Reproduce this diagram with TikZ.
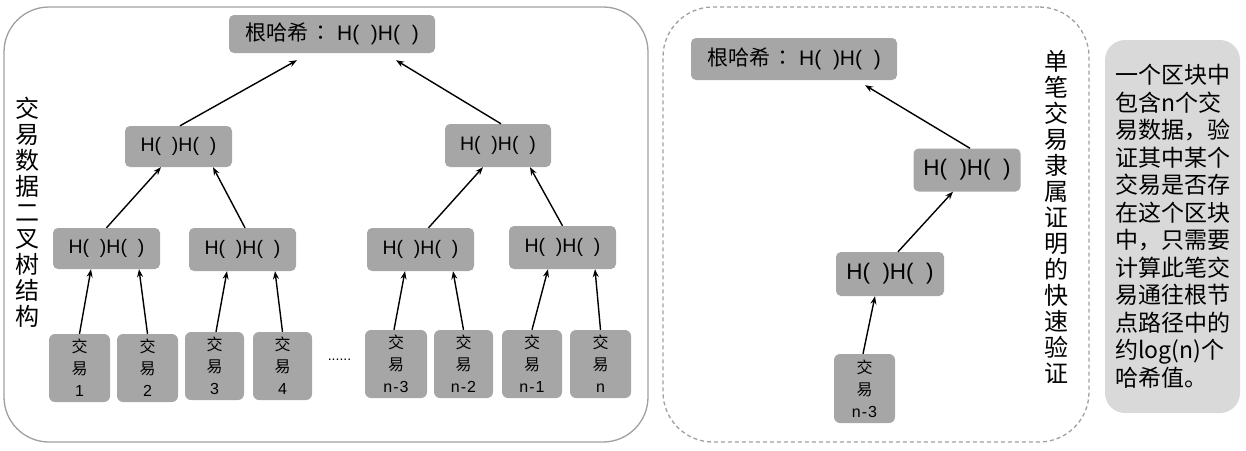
\documentclass[tikz,border=0pt]{standalone}
\usepackage{fontspec}
\setmainfont{Liberation Sans}
\newfontfamily\cjk{Noto Sans CJK SC}
\newfontfamily\cjktc{Noto Sans CJK TC}
\usetikzlibrary{arrows.meta}
\definecolor{boxgray}{HTML}{A6A6A6}
\definecolor{lightbox}{HTML}{D9D9D9}
\definecolor{framegray}{HTML}{A0A0A0}
\newcommand{\roottext}{{\cjk 根哈希}\kern2pt{\cjktc ：}\kern6pt H(~~)H(~~)}
\newcommand{\leaftext}[1]{{\cjk 交}\\{\cjk 易}\\#1}
\begin{document}
\begin{tikzpicture}[x=1pt,y=-1pt,
  frame/.style={draw=framegray, line width=1.3pt, rounded corners=45pt, inner sep=0pt},
  hnode/.style={fill=boxgray, rounded corners=5pt, inner sep=0pt, font=\fontsize{19.5}{21}\selectfont},
  bighnode/.style={hnode, font=\fontsize{22.5}{24}\selectfont},
  rootnode/.style={hnode, minimum width=206pt, font=\fontsize{21}{23}\selectfont},
  leaf/.style={fill=boxgray, rounded corners=6pt, minimum width=61pt, minimum height=68pt, inner sep=0pt, align=center, font=\fontsize{16}{22}\selectfont},
  vtext/.style={align=center, inner sep=0pt, font=\cjk\fontsize{24}{26}\selectfont},
  arr/.style={-{Stealth[length=8pt,width=6pt]}, line width=1.4pt},
]
\useasboundingbox (0,0) rectangle (1246,450);

% frames
\node[frame, minimum width=644pt, minimum height=435pt] (leftframe) at (326,224.5) {};
\node[frame, dashed, dash pattern=on 4pt off 3pt, rounded corners=50pt, minimum width=426pt, minimum height=435pt] (rightframe) at (876,224.5) {};

% left tree
\node[rootnode, minimum height=38pt] (root) at (332,34) {\roottext};
\node[hnode, minimum width=107pt, minimum height=41pt] (l2a) at (178.5,146.5) {H(~~)H(~~)};
\node[hnode, minimum width=106pt, minimum height=43pt] (l2b) at (498,145.5) {H(~~)H(~~)};
\node[hnode, minimum width=107pt, minimum height=41pt] (l3a) at (106.5,248.5) {H(~~)H(~~)};
\node[hnode, minimum width=107pt, minimum height=43pt] (l3b) at (242.5,249.5) {H(~~)H(~~)};
\node[hnode, minimum width=107pt, minimum height=43pt] (l3c) at (420.5,249.5) {H(~~)H(~~)};
\node[hnode, minimum width=107pt, minimum height=43pt] (l3d) at (562.5,247.5) {H(~~)H(~~)};

\node[leaf] (t1) at (79.5,368) {\leaftext{1}};
\node[leaf] (t2) at (147.5,368) {\leaftext{2}};
\node[leaf, minimum width=59pt] (t3) at (214.5,366) {\leaftext{3}};
\node[leaf, minimum width=59pt] (t4) at (282.5,366) {\leaftext{4}};
\node[leaf, minimum width=62pt] (tn3) at (396,364) {\leaftext{n\kern1pt-\kern1pt3}};
\node[leaf, minimum width=59pt] (tn2) at (463.5,364) {\leaftext{n\kern1pt-\kern1pt2}};
\node[leaf, minimum width=60pt] (tn1) at (532,364) {\leaftext{n\kern1pt-\kern1pt1}};
\node[leaf] (tn) at (600.5,364) {\leaftext{n}};
\node[inner sep=0pt, font=\fontsize{14}{14}\selectfont] (dots) at (339.5,360) {......};

\draw[arr] (t1.north) -- ([xshift=-15.5pt]l3a.south);
\draw[arr] (t2.north) -- ([xshift=32.5pt]l3a.south);
\draw[arr] ([xshift=1.5pt]t3.north) -- ([xshift=-15.5pt]l3b.south);
\draw[arr] (t4.north) -- ([xshift=32.5pt]l3b.south);
\draw[arr] ([xshift=-2pt]tn3.north) -- ([xshift=-15.5pt]l3c.south);
\draw[arr] (tn2.north) -- ([xshift=32.5pt]l3c.south);
\draw[arr] (tn1.north) -- ([xshift=-14.5pt]l3d.south);
\draw[arr] (tn.north) -- ([xshift=32.5pt]l3d.south);
\draw[arr] (l3a.north) -- ([xshift=-17.5pt]l2a.south);
\draw[arr] ([xshift=2.5pt]l3b.north) -- ([xshift=34.5pt]l2a.south);
\draw[arr] ([xshift=8pt]l3c.north) -- ([xshift=-15pt]l2b.south);
\draw[arr] (l3d.north) -- ([xshift=32pt]l2b.south);
\draw[arr] ([xshift=1.5pt]l2a.north) -- ([xshift=-35pt,yshift=-7pt]root.south);
\draw[arr] ([xshift=3pt]l2b.north) -- ([xshift=64pt,yshift=-7pt]root.south);

\node[vtext] (lefttitle) at (27,212.5) {交\\易\\数\\据\\二\\叉\\树\\结\\构};

% right proof path
\node[rootnode, minimum height=42pt] (root2) at (794,59) {\roottext};
\node[bighnode, minimum width=107pt, minimum height=43pt] (p2) at (967,170) {H(~~)H(~~)};
\node[bighnode, minimum width=108pt, minimum height=44pt] (p1) at (890,274) {H(~~)H(~~)};
\node[leaf, minimum height=69pt] (p0) at (864.5,388.5) {\leaftext{n\kern1pt-\kern1pt3}};

\draw[arr] ([xshift=-1.5pt]p0.north) -- ([xshift=-15pt]p1.south);
\draw[arr] ([xshift=8pt]p1.north) -- ([xshift=-14pt]p2.south);
\draw[arr] ([xshift=3pt]p2.north) -- ([xshift=71pt,yshift=-5pt]root2.south);

\node[vtext] (righttitle) at (1056,217) {单\\笔\\交\\易\\隶\\属\\证\\明\\的\\快\\速\\验\\证};

% note box
\node[fill=lightbox, rounded corners=20pt, minimum width=135pt, minimum height=373pt, inner sep=0pt, align=left, font=\cjk\fontsize{23}{27.5}\selectfont] (note) at (1172.5,226.5)
{一个区块中\\包含n个交\\易数据，验\\证其中某个\\交易是否存\\在这个区块\\中，只需要\\计算此笔交\\易通往根节\\点路径中的\\约log(n)个\\哈希值。};
\end{tikzpicture}
\end{document}
